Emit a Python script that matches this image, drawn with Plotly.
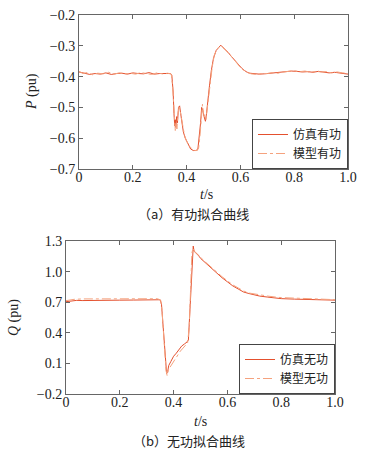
import plotly.graph_objects as go

# ---- Active power (P) ----
t_p_sim = [0.00,0.02,0.04,0.06,0.08,0.10,0.12,0.14,0.16,0.18,0.20,0.22,0.24,0.26,0.28,0.30,0.32,0.34,
           0.345,0.350,0.353,0.356,0.358,0.360,0.363,0.366,0.370,0.374,0.378,0.382,0.388,0.395,0.405,0.415,
           0.425,0.435,0.442,0.447,0.452,0.456,0.460,0.465,0.470,0.474,0.478,0.485,0.492,0.500,0.510,0.520,
           0.527,0.535,0.545,0.555,0.565,0.575,0.585,0.595,0.605,0.615,0.625,0.635,0.65,0.67,0.69,0.71,0.73,
           0.75,0.77,0.79,0.81,0.83,0.85,0.87,0.89,0.91,0.93,0.95,0.97,0.99,1.00]
p_sim = [-0.385,-0.388,-0.393,-0.390,-0.392,-0.388,-0.393,-0.390,-0.389,-0.392,-0.388,-0.390,-0.391,-0.387,-0.392,-0.390,-0.389,-0.390,
         -0.395,-0.45,-0.52,-0.56,-0.54,-0.565,-0.53,-0.55,-0.50,-0.495,-0.52,-0.54,-0.58,-0.60,-0.62,-0.635,
         -0.64,-0.64,-0.635,-0.60,-0.55,-0.50,-0.51,-0.53,-0.545,-0.52,-0.48,-0.43,-0.38,-0.34,-0.315,-0.305,
         -0.298,-0.305,-0.313,-0.322,-0.333,-0.343,-0.355,-0.365,-0.373,-0.380,-0.386,-0.389,-0.391,-0.392,-0.391,-0.389,-0.388,
         -0.386,-0.384,-0.382,-0.383,-0.385,-0.384,-0.386,-0.383,-0.386,-0.388,-0.386,-0.389,-0.390,-0.392]

t_p_mod = [0.00,0.015,0.03,0.05,0.07,0.09,0.11,0.13,0.15,0.17,0.19,0.21,0.23,0.25,0.27,0.29,0.31,0.33,0.343,
           0.348,0.352,0.355,0.358,0.361,0.364,0.368,0.372,0.376,0.380,0.385,0.392,0.400,0.410,0.420,0.430,
           0.440,0.445,0.450,0.455,0.459,0.463,0.468,0.472,0.476,0.481,0.488,0.495,0.503,0.513,0.522,0.530,
           0.540,0.550,0.560,0.570,0.580,0.590,0.600,0.610,0.620,0.630,0.640,0.66,0.68,0.70,0.72,0.74,0.76,
           0.78,0.80,0.82,0.84,0.86,0.88,0.90,0.92,0.94,0.96,0.98,1.00]
p_mod = [-0.383,-0.390,-0.387,-0.394,-0.389,-0.391,-0.386,-0.392,-0.388,-0.391,-0.389,-0.392,-0.387,-0.390,-0.393,-0.388,-0.391,-0.389,-0.392,
         -0.43,-0.50,-0.55,-0.575,-0.55,-0.57,-0.52,-0.50,-0.51,-0.53,-0.56,-0.59,-0.61,-0.625,-0.635,-0.64,
         -0.64,-0.63,-0.59,-0.52,-0.49,-0.52,-0.535,-0.54,-0.51,-0.47,-0.42,-0.37,-0.33,-0.31,-0.303,-0.302,
         -0.309,-0.318,-0.328,-0.338,-0.349,-0.360,-0.370,-0.378,-0.384,-0.388,-0.391,-0.393,-0.390,-0.390,-0.387,-0.389,-0.385,
         -0.383,-0.381,-0.384,-0.382,-0.386,-0.383,-0.385,-0.384,-0.388,-0.385,-0.388,-0.390]

# ---- Reactive power (Q) ----
t_q_sim = [0.00,0.02,0.04,0.06,0.10,0.15,0.20,0.25,0.30,0.34,0.350,0.355,0.360,0.365,0.370,0.374,0.378,
           0.382,0.390,0.400,0.410,0.420,0.430,0.440,0.450,0.455,0.460,0.465,0.470,0.473,0.476,0.480,0.485,
           0.490,0.495,0.50,0.52,0.54,0.56,0.58,0.60,0.62,0.64,0.66,0.68,0.70,0.72,0.75,0.78,0.80,0.85,0.90,0.95,1.00]
q_sim = [0.705,0.712,0.718,0.716,0.719,0.717,0.720,0.721,0.724,0.727,0.724,0.68,0.50,0.30,0.10,0.00,0.02,
         0.08,0.12,0.17,0.20,0.24,0.27,0.29,0.31,0.33,0.60,0.95,1.22,1.25,1.20,1.19,1.17,
         1.16,1.15,1.13,1.08,1.03,0.98,0.94,0.90,0.86,0.83,0.80,0.785,0.77,0.76,0.75,0.74,0.735,0.73,0.728,0.726,0.72]

t_q_mod = [0.00,0.03,0.06,0.10,0.15,0.20,0.25,0.30,0.34,0.352,0.357,0.362,0.367,0.372,0.376,0.380,0.386,
           0.395,0.405,0.415,0.425,0.435,0.445,0.452,0.458,0.463,0.468,0.472,0.476,0.480,0.486,0.492,0.50,
           0.52,0.54,0.56,0.58,0.60,0.62,0.64,0.66,0.68,0.70,0.72,0.75,0.78,0.80,0.85,0.90,0.95,1.00]
q_mod = [0.715,0.728,0.732,0.733,0.731,0.734,0.733,0.735,0.734,0.72,0.62,0.42,0.20,0.03,-0.02,0.03,0.06,
         0.10,0.14,0.18,0.22,0.25,0.28,0.30,0.45,0.85,1.18,1.23,1.21,1.19,1.18,1.16,1.14,
         1.09,1.04,0.99,0.95,0.91,0.87,0.84,0.81,0.79,0.78,0.77,0.76,0.75,0.745,0.74,0.735,0.73,0.725]

x_tickvals = [0, 0.2, 0.4, 0.6, 0.8, 1.0]
x_ticktext = ["0", "0.2", "0.4", "0.6", "0.8", "1.0"]
p_tickvals = [-0.2, -0.3, -0.4, -0.5, -0.6, -0.7]
p_ticktext = ["\u22120.2", "\u22120.3", "\u22120.4", "\u22120.5", "\u22120.6", "\u22120.7"]
q_tickvals = [1.3, 1.0, 0.7, 0.4, 0.1, -0.2]
q_ticktext = ["1.3", "1.0", "0.7", "0.4", "0.1", "\u22120.2"]

SOLID = "#e4502e"
LIGHT = "#f5a27e"
W, H = 373, 450
SERIF = "Liberation Serif"
CJK = "Noto Sans CJK SC"

fig = go.Figure()
fig.add_trace(go.Scatter(x=t_p_sim, y=p_sim, mode="lines", name="仿真有功",
                         line=dict(color=SOLID, width=1), xaxis="x", yaxis="y", legend="legend"))
fig.add_trace(go.Scatter(x=t_p_mod, y=p_mod, mode="lines", name="模型有功",
                         line=dict(color=LIGHT, width=1, dash="dashdot"), xaxis="x", yaxis="y", legend="legend"))
fig.add_trace(go.Scatter(x=t_q_sim, y=q_sim, mode="lines", name="仿真无功",
                         line=dict(color=SOLID, width=1), xaxis="x2", yaxis="y2", legend="legend2"))
fig.add_trace(go.Scatter(x=t_q_mod, y=q_mod, mode="lines", name="模型无功",
                         line=dict(color=LIGHT, width=1, dash="dashdot"), xaxis="x2", yaxis="y2", legend="legend2"))

ax_common = dict(showline=True, linecolor="#666666", linewidth=1, mirror="ticks", ticks="inside",
                 ticklen=4, tickcolor="#666666", showgrid=False, zeroline=False, automargin=False,
                 tickfont=dict(family=SERIF, size=14, color="#222222"))

dx1 = [79 / W, 348 / W]; dy1 = [1 - 169 / H, 1 - 15 / H]
dx2 = [66 / W, 335 / W]; dy2 = [1 - 394 / H, 1 - 241 / H]

leg_common = dict(xanchor="right", yanchor="bottom", bgcolor="white",
                  bordercolor="#444444", borderwidth=1, font=dict(family=CJK, size=12, color="#222222"),
                  tracegroupgap=0, itemwidth=30)

fig.update_layout(
    width=W, height=H, autosize=False,
    margin=dict(l=0, r=0, t=0, b=0, pad=0),
    paper_bgcolor="white", plot_bgcolor="white",
    xaxis=dict(domain=dx1, range=[0, 1], tickvals=x_tickvals, ticktext=x_ticktext, anchor="y",
               ticklabelstandoff=-5, **ax_common),
    yaxis=dict(domain=dy1, range=[-0.7, -0.2], tickvals=p_tickvals, ticktext=p_ticktext, anchor="x", **ax_common),
    xaxis2=dict(domain=dx2, range=[0, 1], tickvals=x_tickvals, ticktext=x_ticktext, anchor="y2",
                ticklabelstandoff=-5, **ax_common),
    yaxis2=dict(domain=dy2, range=[-0.2, 1.3], tickvals=q_tickvals, ticktext=q_ticktext, anchor="x2", **ax_common),
    legend=dict(x=dx1[1], y=dy1[0], **leg_common),
    legend2=dict(x=dx2[1], y=dy2[0], **leg_common),
    showlegend=True,
)

ann_font = dict(family=SERIF, size=14, color="#222222")
cap_font = dict(family=CJK, size=13, color="#222222")

def ann(x, y, text, font, angle=0):
    fig.add_annotation(x=x / W, y=1 - y / H, xref="paper", yref="paper", xanchor="center",
                       yanchor="middle", text=text, textangle=angle, showarrow=False, font=font)

ann(206, 194, "<i>t</i>/s", ann_font)
ann(32, 92, "<i>P</i> (pu)", ann_font, -90)
ann(193, 214, "（a）有功拟合曲线", cap_font)
ann(200, 421, "<i>t</i>/s", ann_font)
ann(14, 317, "<i>Q</i> (pu)", ann_font, -90)
ann(189, 440, "（b）无功拟合曲线", cap_font)

fig.write_html("out.html", config={"displayModeBar": False},
               post_script="document.body.style.margin='0';document.body.style.overflow='hidden';")
